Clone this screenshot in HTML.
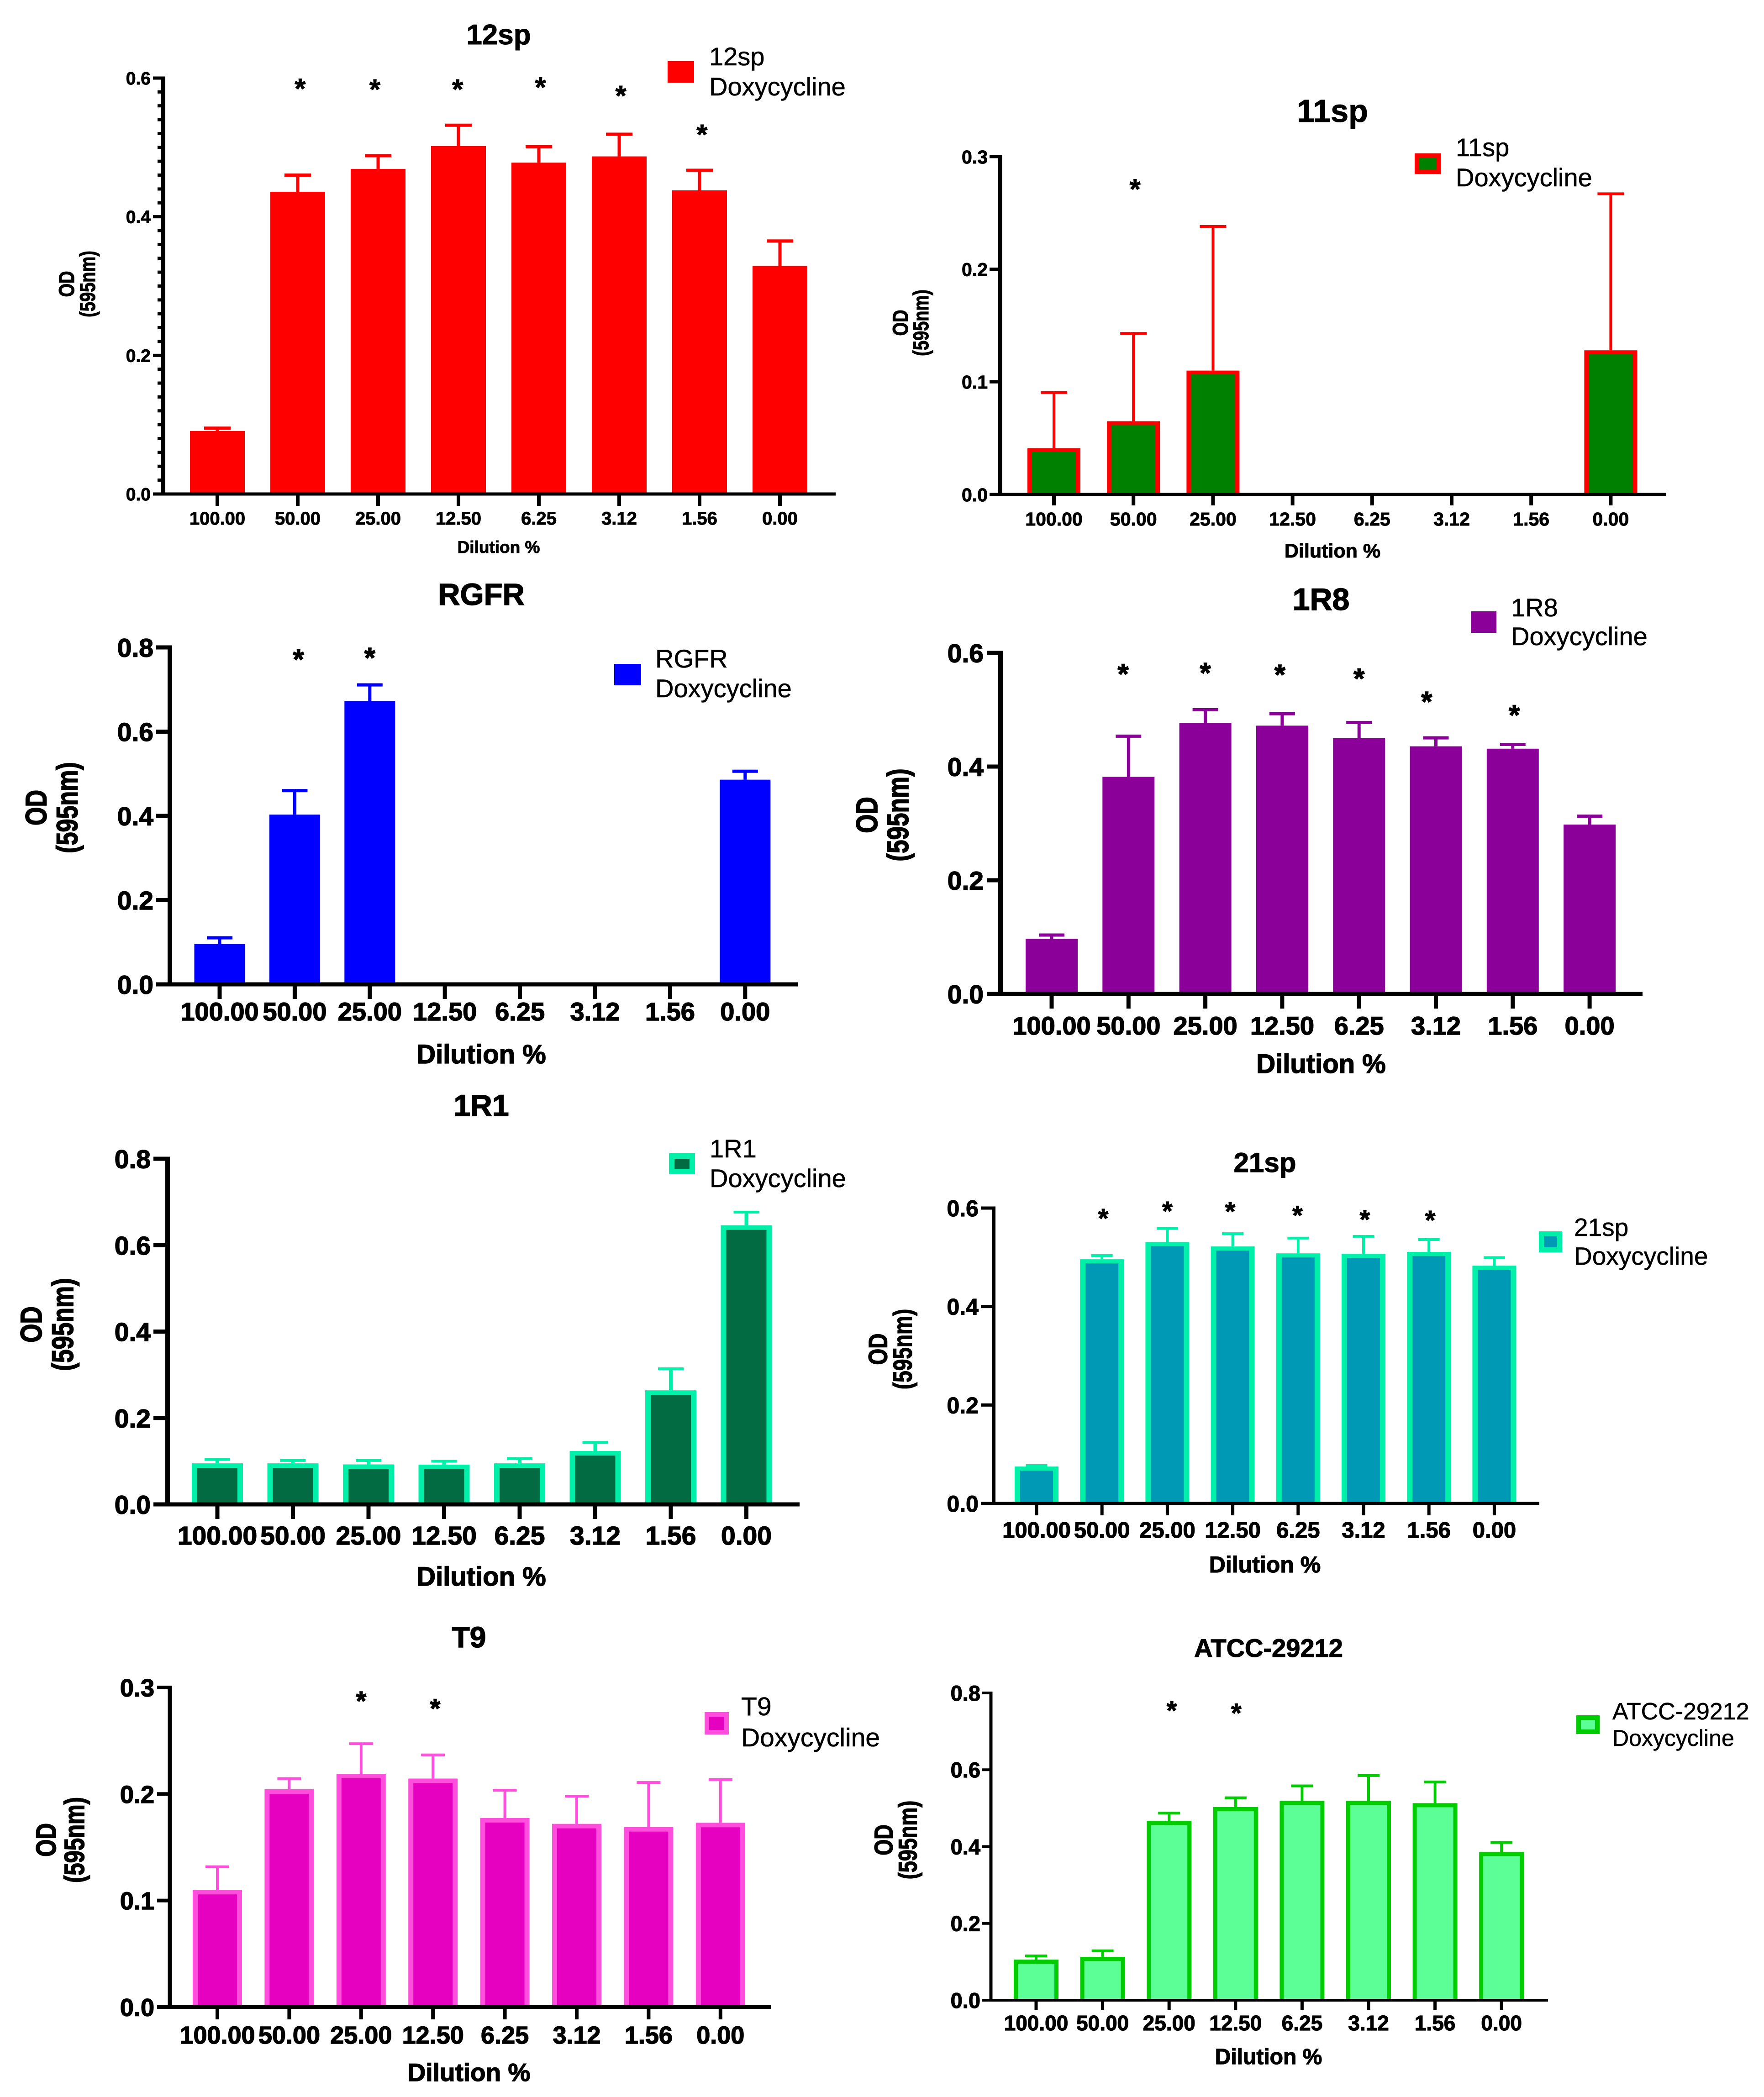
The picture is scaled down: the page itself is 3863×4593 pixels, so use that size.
<!DOCTYPE html>
<html lang="en">
<head>
<meta charset="utf-8">
<title>OD at 595nm by dilution with Doxycycline</title>
<style>
html,body{margin:0;padding:0;background:#fff;}
svg{display:block;font-family:"Liberation Sans",Arial,sans-serif;}
</style>
</head>
<body>
<svg id="figure" xmlns="http://www.w3.org/2000/svg" width="3863" height="4593" viewBox="0 0 3863 4593">
<rect x="0" y="0" width="3863" height="4593" fill="#ffffff"/>
</svg>
<script>
const categories = ["100.00","50.00","25.00","12.50","6.25","3.12","1.56","0.00"];

const means12sp = [0.091,0.436,0.469,0.502,0.478,0.487,0.438,0.329];
const errors12sp = [0.004,0.024,0.019,0.030,0.023,0.032,0.029,0.036];
const yTicks12sp = [0,0.2,0.4,0.6];
const starCats12sp = [1.03,1.96,2.99,4.02,5.02,6.03];
const starVals12sp = [0.591,0.590,0.590,0.593,0.581,0.525];

const means11sp = [0.041,0.065,0.110,null,null,null,null,0.128];
const errors11sp = [0.0495,0.078,0.128,null,null,null,null,0.139];
const yTicks11sp = [0,0.1,0.2,0.3];
const starCats11sp = [1.02];
const starVals11sp = [0.275];

const meansRGFR = [0.096,0.403,0.673,null,null,null,null,0.486];
const errorsRGFR = [0.0145,0.057,0.038,null,null,null,null,0.020];
const yTicksRGFR = [0,0.2,0.4,0.6,0.8];
const starCatsRGFR = [1.05,2.0];
const starValsRGFR = [0.782,0.786];

const means1R8 = [0.097,0.382,0.477,0.472,0.450,0.4356,0.4315,0.298];
const errors1R8 = [0.0066,0.0715,0.023,0.021,0.0276,0.0149,0.0075,0.0147];
const yTicks1R8 = [0,0.2,0.4,0.6];
const starCats1R8 = [0.93,2.0,2.97,4.0,4.88,6.02];
const starVals1R8 = [0.5707,0.5725,0.5695,0.5625,0.522,0.4985];

const means1R1 = [0.095,0.095,0.0925,0.092,0.095,0.1236,0.264,0.646];
const errors1R1 = [0.009,0.0066,0.0091,0.008,0.011,0.0199,0.050,0.0305];
const yTicks1R1 = [0,0.2,0.4,0.6,0.8];
const starCats1R1 = [];
const starVals1R1 = [];

const means21sp = [0.075,0.496,0.531,0.522,0.508,0.507,0.511,0.483];
const errors21sp = [0.002,0.0076,0.0276,0.026,0.031,0.0356,0.025,0.0164];
const yTicks21sp = [0,0.2,0.4,0.6];
const starCats21sp = [1.02,2.0,2.96,3.99,5.02,6.02];
const starVals21sp = [0.5876,0.6024,0.6012,0.5935,0.5852,0.584];

const meansT9 = [0.110,0.2045,0.219,0.2145,0.1775,0.172,0.169,0.173];
const errorsT9 = [0.0217,0.0099,0.0282,0.0222,0.026,0.026,0.0418,0.0405];
const yTicksT9 = [0,0.1,0.2,0.3];
const starCatsT9 = [2.0,3.03];
const starValsT9 = [0.2912,0.2842];

const meansATCC = [0.1057,0.113,0.467,0.503,0.519,0.519,0.513,0.386];
const errorsATCC = [0.0097,0.0155,0.020,0.024,0.039,0.066,0.055,0.0246];
const yTicksATCC = [0,0.2,0.4,0.6,0.8];
const starCatsATCC = [2.04,3.01];
const starValsATCC = [0.765,0.7585];

const NS = "http://www.w3.org/2000/svg";
const figure = document.getElementById("figure");

function shape(tag, parent, props) {
  const el = document.createElementNS(NS, tag);
  for (const k in props) el.setAttribute(k, props[k]);
  parent.appendChild(el);
  return el;
}

function drawChart(c) {
  const group = shape("g", figure, {});
  
  

  const yMax = c.yTicks[c.yTicks.length - 1];
  const xScale = function (i) { return c.firstX + c.step * i; };
  const yScale = function (v) { return c.y0 - (c.y0 - c.yTop) * v / yMax; };
  const bold = {"font-weight": "bold", fill: "#000", stroke: "#000", "stroke-width": c.heavy};

  // bars + error bars
  c.means.forEach(function (m, i) {
    if (m === null) return;
    const cx = xScale(i);
    const top = yScale(m);
    const errTop = yScale(m + c.errors[i]);

    const stem = shape("rect", group, {x: cx - c.stem / 2, y: errTop, width: c.stem, height: top - errTop, fill: c.border});
    
    

    const cap = shape("rect", group, {x: cx - c.capW / 2, y: errTop - c.capH / 2, width: c.capW, height: c.capH, fill: c.border});
    
    

    const bar = shape("rect", group, {x: cx - c.barW / 2, y: top, width: c.barW, height: c.y0 - top, fill: c.border});
    
    

    if (c.bx > 0) {
      const inner = shape("rect", group, {x: cx - c.barW / 2 + c.bx, y: top + c.bt, width: c.barW - 2 * c.bx, height: Math.max(0, c.y0 - top - c.bt), fill: c.fill});
      
      
    }
  });

  // y axis
  const yAxis = shape("rect", group, {x: c.axisX - c.axY / 2, y: c.yTop - c.axX / 2, width: c.axY, height: c.y0 - c.yTop + c.axX, fill: "#000"});
  
  

  // x axis
  const xAxis = shape("rect", group, {x: c.tickLeft, y: c.y0 - c.axX / 2, width: c.xEnd - c.tickLeft, height: c.axX, fill: "#000"});
  
  

  // y ticks
  c.yTicks.forEach(function (v) {
    const y = yScale(v);
    const t = shape("rect", group, {x: c.tickLeft, y: y - c.axX / 2, width: c.axisX - c.tickLeft, height: c.axX, fill: "#000"});
    
    

    const lab = shape("text", group, Object.assign({x: c.yLabelRight, y: y + 0.36 * c.tickFs, "text-anchor": "end", "font-size": c.tickFs}, bold));
    lab.textContent = v.toFixed(1);
    
    
  });

  // minor y ticks
  if (c.minorPerMajor) {
    const majorGap = c.yTicks[1] - c.yTicks[0];
    const total = Math.round(yMax / majorGap * c.minorPerMajor);
    for (let k = 1; k < total; k++) {
      if (k % c.minorPerMajor === 0) continue;
      const y = yScale(k * majorGap / c.minorPerMajor);
      const mt = shape("rect", group, {x: c.tickLeft + 10, y: y - c.axX / 2, width: c.axisX - c.tickLeft - 10, height: c.axX, fill: "#000"});
      
      
    }
  }

  // x ticks & labels
  categories.forEach(function (label, i) {
    const x = xScale(i);
    const t = shape("rect", group, {x: x - c.tickW / 2, y: c.y0, width: c.tickW, height: c.tickLen, fill: "#000"});
    
    

    const lab = shape("text", group, Object.assign({x: x, y: c.xLabelY, "text-anchor": "middle", "font-size": c.xFs}, bold));
    lab.textContent = label;
    
    
  });

  // significance stars
  c.starCats.forEach(function (cat, i) {
    const st = shape("text", group, Object.assign({x: xScale(cat), y: yScale(c.starVals[i]) + 0.5 * c.starFs, "text-anchor": "middle", "font-size": c.starFs}, bold));
    st.textContent = "*";
    
    
  });

  // title
  const title = shape("text", group, Object.assign({x: c.titleX, y: c.titleY, "text-anchor": "middle", "font-size": c.titleFs}, bold));
  title.textContent = c.title;
  
  

  // x-axis title
  const xTitle = shape("text", group, Object.assign({x: c.titleX, y: c.xTitleY, "text-anchor": "middle", "font-size": c.xTitleFs}, bold));
  xTitle.textContent = "Dilution %";
  
  

  // y-axis title (two lines)
  const od = shape("text", group, Object.assign({transform: "translate(" + c.odX + "," + c.yLabY + ") rotate(-90) scale(1,1.25)", y: 0.36 * c.yLabFs, "text-anchor": "middle", "font-size": c.yLabFs}, bold));
  od.textContent = "OD";
  
  

  const nm = shape("text", group, Object.assign({transform: "translate(" + c.nmX + "," + c.yLabY + ") rotate(-90) scale(1,1.25)", y: 0.36 * c.yLabFs, "text-anchor": "middle", "font-size": c.yLabFs}, bold));
  nm.textContent = "(595nm)";
  
  

  // legend
  const lg = c.legend;
  const swatch = shape("rect", group, {x: lg.x, y: lg.y, width: lg.w, height: lg.h, fill: c.border});
  
  

  if (c.bx > 0) {
    const swatchFill = shape("rect", group, {x: lg.x + lg.b, y: lg.y + lg.b, width: lg.w - 2 * lg.b, height: lg.h - 2 * lg.b, fill: c.fill});
    
    
  }

  const lg1 = shape("text", group, {x: lg.tx, y: lg.y1, "font-size": lg.fs1 || lg.fs, fill: "#000", stroke: "#000", "stroke-width": 0.6});
  lg1.textContent = c.title;
  
  

  const lg2 = shape("text", group, {x: lg.tx, y: lg.y2, "font-size": lg.fs, fill: "#000", stroke: "#000", "stroke-width": 0.6});
  lg2.textContent = "Doxycycline";
  
  
}

drawChart({key:"12sp", title:"12sp", means:means12sp, errors:errors12sp, yTicks:yTicks12sp, starCats:starCats12sp, starVals:starVals12sp,
  firstX:476, step:176, barW:120, y0:1082, yTop:171, axisX:357, tickLeft:335, xEnd:1830, axX:7, axY:10, tickW:8, tickLen:26, minorPerMajor:10, heavy:1,
  border:"#ff0000", fill:"#ff0000", bx:0, bt:0, stem:7, capW:58, capH:7, tickFs:39, yLabelRight:330, xFs:40, xLabelY:1149, starFs:62,
  titleX:1092, titleY:97, titleFs:62, xTitleY:1211, xTitleFs:37, odX:145, nmX:191, yLabY:622, yLabFs:38,
  legend:{x:1462, y:134, w:58, h:47, b:0, tx:1553, y1:143, y2:209, fs:56}});

drawChart({key:"11sp", title:"11sp", means:means11sp, errors:errors11sp, yTicks:yTicks11sp, starCats:starCats11sp, starVals:starVals11sp,
  firstX:2308, step:174.2, barW:116, y0:1083, yTop:343, axisX:2190, tickLeft:2167, xEnd:3649, axX:7, axY:9, tickW:8, tickLen:24, heavy:1,
  border:"#ff0000", fill:"#008000", bx:10, bt:8, stem:6, capW:58, capH:6, tickFs:41, yLabelRight:2163, xFs:41, xLabelY:1151, starFs:62,
  titleX:2918, titleY:267, titleFs:70, xTitleY:1221, xTitleFs:43, odX:1971, nmX:2016, yLabY:707, yLabFs:38,
  legend:{x:3098, y:336, w:57, h:45, b:9, tx:3188, y1:342, y2:408, fs:56}});

drawChart({key:"RGFR", title:"RGFR", means:meansRGFR, errors:errorsRGFR, yTicks:yTicksRGFR, starCats:starCatsRGFR, starVals:starValsRGFR,
  firstX:481, step:164.4, barW:111, y0:2156, yTop:1418, axisX:372, tickLeft:342, xEnd:1747, axX:9, axY:10, tickW:9, tickLen:32, heavy:1.5,
  border:"#0000ff", fill:"#0000ff", bx:0, bt:0, stem:7, capW:56, capH:7, tickFs:57, yLabelRight:336, xFs:56, xLabelY:2235, starFs:62,
  titleX:1054, titleY:1325, titleFs:67, xTitleY:2329, xTitleFs:58, odX:78, nmX:146, yLabY:1769, yLabFs:52,
  legend:{x:1345, y:1454, w:59, h:47, b:0, tx:1435, y1:1462, y2:1527, fs:56}});

drawChart({key:"1R8", title:"1R8", means:means1R8, errors:errors1R8, yTicks:yTicks1R8, starCats:starCats1R8, starVals:starVals1R8,
  firstX:2303, step:168.3, barW:114, y0:2177, yTop:1430, axisX:2191, tickLeft:2161, xEnd:3597, axX:9, axY:10, tickW:9, tickLen:32, heavy:1.5,
  border:"#8b0099", fill:"#8b0099", bx:0, bt:0, stem:7, capW:56, capH:7, tickFs:57, yLabelRight:2154, xFs:56, xLabelY:2266, starFs:62,
  titleX:2893, titleY:1336, titleFs:68, xTitleY:2350, xTitleFs:58, odX:1897, nmX:1965, yLabY:1785, yLabFs:53,
  legend:{x:3221, y:1339, w:56, h:47, b:0, tx:3309, y1:1350, y2:1413, fs:56}});

drawChart({key:"1R1", title:"1R1", means:means1R1, errors:errors1R1, yTicks:yTicks1R1, starCats:starCats1R1, starVals:starVals1R1,
  firstX:476, step:165.5, barW:112, y0:3295, yTop:2538, axisX:367, tickLeft:336, xEnd:1751, axX:9, axY:10, tickW:9, tickLen:32, heavy:1.5,
  border:"#00f0aa", fill:"#026b42", bx:12, bt:10, stem:8, capW:56, capH:6, tickFs:57, yLabelRight:330, xFs:57, xLabelY:3383, starFs:62,
  titleX:1054, titleY:2444, titleFs:66, xTitleY:3473, xTitleFs:58, odX:67, nmX:136, yLabY:2901, yLabFs:53,
  legend:{x:1465, y:2526, w:57, h:46, b:12, tx:1554, y1:2535, y2:2600, fs:56}});

drawChart({key:"21sp", title:"21sp", means:means21sp, errors:errors21sp, yTicks:yTicks21sp, starCats:starCats21sp, starVals:starVals21sp,
  firstX:2270, step:143.2, barW:96, y0:3293, yTop:2646, axisX:2176, tickLeft:2148, xEnd:3371, axX:7, axY:8, tickW:7, tickLen:26, heavy:1.2,
  border:"#00f0aa", fill:"#0099b5", bx:12, bt:9, stem:6, capW:47, capH:6, tickFs:50, yLabelRight:2143, xFs:49, xLabelY:3368, starFs:58,
  titleX:2770, titleY:2567, titleFs:60, xTitleY:3444, xTitleFs:50, odX:1922, nmX:1976, yLabY:2955, yLabFs:46,
  legend:{x:3370, y:2697, w:51, h:46, b:11, tx:3447, y1:2707, y2:2770, fs:55}});

drawChart({key:"T9", title:"T9", means:meansT9, errors:errorsT9, yTicks:yTicksT9, starCats:starCatsT9, starVals:starValsT9,
  firstX:476, step:157.4, barW:108, y0:4396, yTop:3696, axisX:372, tickLeft:344, xEnd:1689, axX:8, axY:9, tickW:8, tickLen:27, heavy:1.5,
  border:"#ff4fdc", fill:"#e600c0", bx:11, bt:10, stem:6, capW:52, capH:6, tickFs:54, yLabelRight:338, xFs:54, xLabelY:4476, starFs:58,
  titleX:1027, titleY:3608, titleFs:64, xTitleY:4558, xTitleFs:55, odX:100, nmX:162, yLabY:4030, yLabFs:49,
  legend:{x:1543, y:3750, w:53, h:49, b:10, tx:1623, y1:3757, y2:3825, fs:57}});

drawChart({key:"ATCC-29212", title:"ATCC-29212", means:meansATCC, errors:errorsATCC, yTicks:yTicksATCC, starCats:starCatsATCC, starVals:starValsATCC,
  firstX:2269, step:145.6, barW:98, y0:4381, yTop:3708, axisX:2170, tickLeft:2150, xEnd:3390, axX:6, axY:7, tickW:7, tickLen:21, heavy:1.2,
  border:"#00cc00", fill:"#5cff96", bx:9, bt:9, stem:6, capW:48, capH:6, tickFs:47, yLabelRight:2147, xFs:46, xLabelY:4447, starFs:58,
  titleX:2778, titleY:3629, titleFs:56, xTitleY:4521, xTitleFs:48, odX:1934, nmX:1987, yLabY:4030, yLabFs:45,
  legend:{x:3452, y:3757, w:51, h:41, b:10, tx:3531, y1:3766, y2:3824, fs:50, fs1:52}});
</script>
</body>
</html>
